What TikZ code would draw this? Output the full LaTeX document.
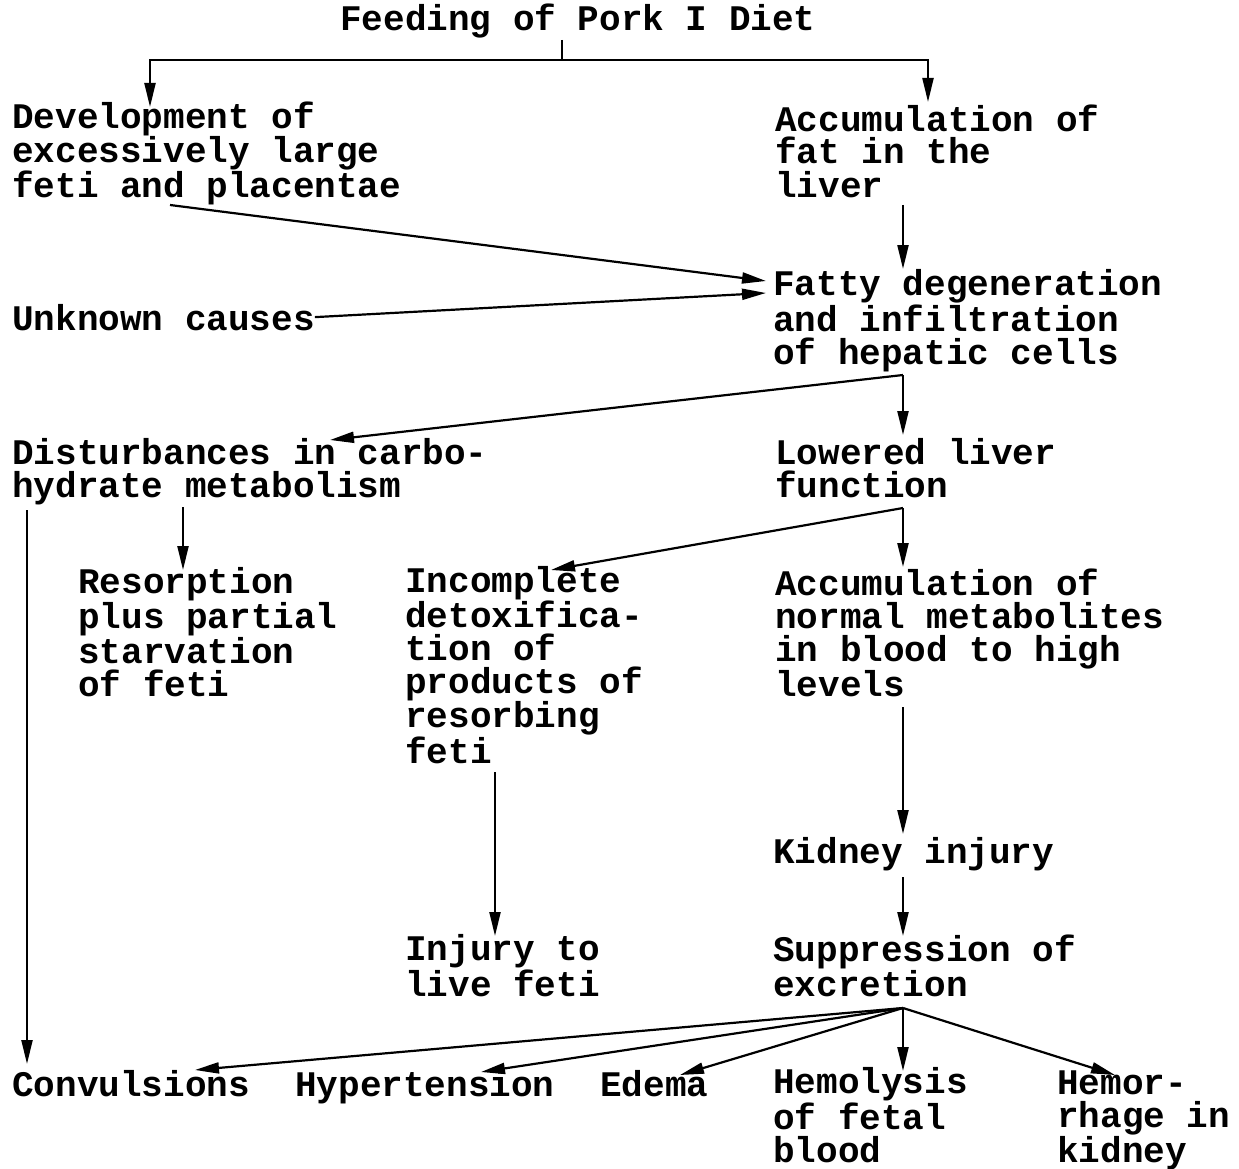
\documentclass[tikz,border=0pt]{standalone}
\usepackage{fontspec}
\setmonofont{Liberation Mono}
\usetikzlibrary{arrows.meta,calc}
\begin{document}
\begin{tikzpicture}[x=1pt,y=-1pt,
  lbl/.style={anchor=base west, inner sep=0pt, align=left,
    font=\ttfamily\bfseries\fontsize{36}{33}\selectfont},
  ln/.style={line width=2.2pt},
  arr/.style={line width=2.2pt, -{Triangle[length=24pt,width=11pt]}}]
\useasboundingbox[fill=white] (0,0) rectangle (1239,1169);

% nodes (positions are the baseline of each text's last line)
\node[lbl] (title) at (340,31) {Feeding of Pork I Diet};
\node[lbl] (dev) at (12,198) {Development of\\excessively large\\feti and placentae};
\node[lbl] (acc) at (775,197) {Accumulation of\\fat in the\\liver};
\node[lbl] (unk) at (12,330) {Unknown causes};
\node[lbl] (fatty) at (773,364) {Fatty degeneration\\and infiltration\\of hepatic cells};
\node[lbl] (dist) at (12,497) {Disturbances in carbo-\\hydrate metabolism};
\node[lbl] (low) at (775,497) {Lowered liver\\function};
\node[lbl] (res) at (78,696) {Resorption\\plus partial\\starvation\\of feti};
\node[lbl] (inc) at (405,763) {Incomplete\\detoxifica-\\tion of\\products of\\resorbing\\feti};
\node[lbl] (accn) at (775,696) {Accumulation of\\normal metabolites\\in blood to high\\levels};
\node[lbl] (kid) at (773,863) {Kidney injury};
\node[lbl] (inj) at (405,996) {Injury to\\live feti};
\node[lbl] (sup) at (773,996) {Suppression of\\excretion};
\node[lbl] (conv) at (12,1096) {Convulsions};
\node[lbl] (hyp) at (295,1096) {Hypertension};
\node[lbl] (edema) at (600,1096) {Edema};
\node[lbl] (hemol) at (773,1162) {Hemolysis\\of fetal\\blood};
\node[lbl] (hemor) at (1057,1162) {Hemor-\\rhage in\\kidney};

% connector end points
\coordinate (title-out) at (562,40);
\coordinate (tj) at (562,60);
\coordinate (dev-in) at (150,107);
\coordinate (acc-in) at (928,102);
\coordinate (dev-out) at (170,205);
\coordinate (fatty-in1) at (766,281);
\coordinate (fatty-in2) at (766,293);
\coordinate (acc-out) at (903,205);
\coordinate (fatty-in3) at (903,269);
\coordinate (fatty-out) at (903,375);
\coordinate (low-in) at (903,435);
\coordinate (dist-in) at (330,440);
\coordinate (dist-out1) at (183,507);
\coordinate (res-in) at (183,570);
\coordinate (dist-out2) at (27,510);
\coordinate (conv-in1) at (27,1064);
\coordinate (low-out) at (903,508);
\coordinate (accn-in) at (903,567);
\coordinate (inc-in) at (551,570);
\coordinate (inc-out) at (495,772);
\coordinate (inj-in) at (495,936);
\coordinate (accn-out) at (903,707);
\coordinate (kid-in) at (903,834);
\coordinate (kid-out) at (903,877);
\coordinate (sup-in) at (903,936);
\coordinate (sup-out) at (903,1008);
\coordinate (conv-in2) at (195,1070);
\coordinate (hyp-in) at (481,1072);
\coordinate (edema-in) at (680,1075);
\coordinate (hemol-in) at (903,1071);
\coordinate (hemor-in) at (1115,1075);

% connectors
\draw[ln] (title-out) -- (tj);
\draw[arr] (tj) -| (dev-in);
\draw[arr] (tj) -| (acc-in);
\draw[arr] (dev-out) -- (fatty-in1);
\draw[arr] (unk.east) -- (fatty-in2);
\draw[arr] (acc-out) -- (fatty-in3);
\draw[arr] (fatty-out) -- (low-in);
\draw[arr] (fatty-out) -- (dist-in);
\draw[arr] (dist-out1) -- (res-in);
\draw[arr] (dist-out2) -- (conv-in1);
\draw[arr] (low-out) -- (accn-in);
\draw[arr] (low-out) -- (inc-in);
\draw[arr] (inc-out) -- (inj-in);
\draw[arr] (accn-out) -- (kid-in);
\draw[arr] (kid-out) -- (sup-in);
\draw[arr] (sup-out) -- (conv-in2);
\draw[arr] (sup-out) -- (hyp-in);
\draw[arr] (sup-out) -- (edema-in);
\draw[arr] (sup-out) -- (hemol-in);
\draw[arr] (sup-out) -- (hemor-in);
\end{tikzpicture}
\end{document}
